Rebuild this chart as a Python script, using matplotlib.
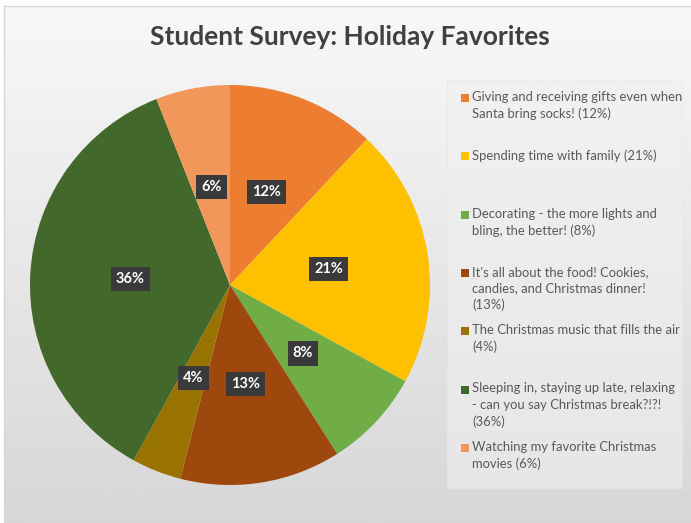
import matplotlib.pyplot as plt
import numpy as np
from matplotlib.patches import Rectangle

plt.rcParams['font.family'] = ['Lato', 'DejaVu Sans']

# data
labels = [
    "Giving and receiving gifts even when\nSanta bring socks! (12%)",
    "Spending time with family (21%)",
    "Decorating - the more lights and\nbling, the better! (8%)",
    "It's all about the food! Cookies,\ncandies, and Christmas dinner!\n(13%)",
    "The Christmas music that fills the air\n(4%)",
    "Sleeping in, staying up late, relaxing\n- can you say Christmas break?!?!\n(36%)",
    "Watching my favorite Christmas\nmovies (6%)",
]
values = [12, 21, 8, 13, 4, 36, 6]
colors = ['#ED7D31', '#FFC000', '#70AD47', '#9E480E', '#997300', '#43682B', '#F1975A']

fig = plt.figure(figsize=(6.91, 5.23), dpi=100)

# gradient background of the chart area
bg = fig.add_axes([0, 0, 1, 1])
grad = np.linspace(0.97, 0.84, 256).reshape(-1, 1)
grad = np.repeat(grad, 2, axis=1)
bg.imshow(grad, cmap='gray', vmin=0, vmax=1, aspect='auto',
          extent=[4 / 691, 1, 0, 1 - 6 / 523], zorder=0)
bg.add_patch(Rectangle((4 / 691, 0), 1, 1 - 6 / 523, fill=False,
                       edgecolor='#d6d6d6', lw=1, transform=bg.transAxes))
bg.set_xlim(0, 1)
bg.set_ylim(0, 1)
bg.axis('off')

fig.text(350 / 691, 1 - 37 / 523, "Student Survey: Holiday Favorites",
         ha='center', va='center', fontsize=19, fontweight='bold', color='#404040')

# pie
ax = fig.add_axes([30 / 691, 1 - 485 / 523, 400 / 691, 400 / 523])
wedges, texts, autotexts = ax.pie(values, colors=colors, startangle=90, counterclock=False,
                                  autopct='%d%%', pctdistance=0.5, radius=1,
                                  wedgeprops=dict(linewidth=0))
for t in autotexts:
    t.set_color('white')
    t.set_fontweight('bold')
    t.set_fontsize(10.5)
    t.set_bbox(dict(boxstyle='square,pad=0.35', facecolor='#3a3a3a', edgecolor='none'))
ax.set_xlim(-1, 1)
ax.set_ylim(-1, 1)
ax.set_aspect('equal')

# legend panel
lx0, ly0, lx1, ly1 = 447 / 691, 1 - 488 / 523, 682 / 691, 1 - 80 / 523
bg.add_patch(Rectangle((lx0, ly0), lx1 - lx0, ly1 - ly0, facecolor='#f0f0f0',
                       edgecolor='#e6e6e6', lw=0.6, alpha=0.6, transform=bg.transAxes))
for i, (lab, c) in enumerate(zip(labels, colors)):
    ytop = 91 + i * 58.3
    bg.add_patch(Rectangle((461 / 691, 1 - (ytop + 11) / 523), 8 / 691, 8 / 523,
                           facecolor=c, edgecolor='none', transform=bg.transAxes))
    fig.text(472 / 691, 1 - ytop / 523, lab, ha='left', va='top', fontsize=9.4,
             color='#595959', linespacing=1.42)

fig.savefig('out.png', dpi=100)
